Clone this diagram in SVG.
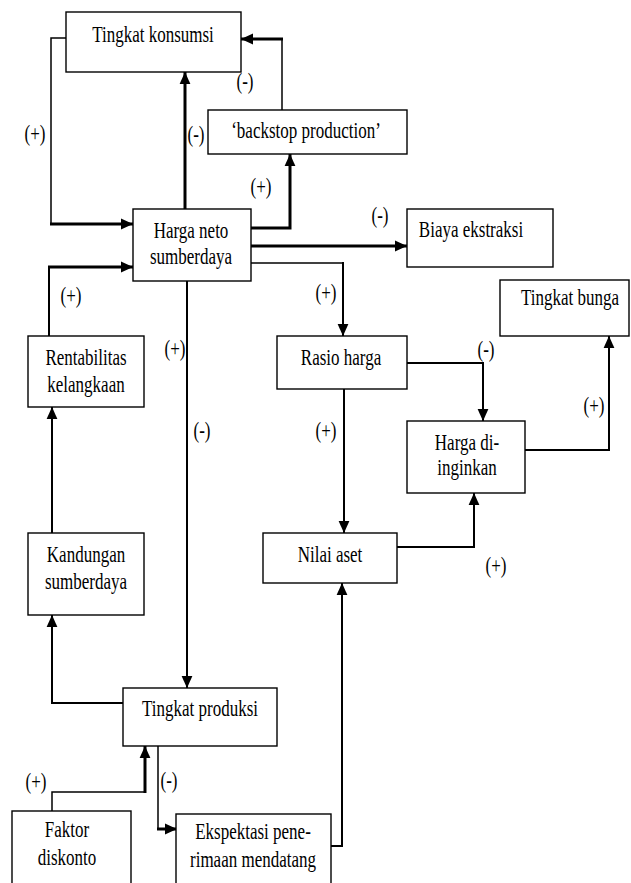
<svg xmlns="http://www.w3.org/2000/svg" width="631" height="883" viewBox="0 0 631 883">
  <style>
    .box { fill: #ffffff; stroke: #000000; stroke-width: 1.4; }
    .t { font-family: 'Liberation Serif', 'Times New Roman', serif; font-size: 17px; fill: #000000; text-anchor: middle; }
    .lbl { font-family: 'Liberation Serif', 'Times New Roman', serif; font-size: 17px; fill: #000000; text-anchor: middle; }
    .ln { fill: none; stroke: #000000; stroke-width: 2; stroke-linejoin: miter; }
    .thin { fill: none; stroke: #000000; stroke-width: 1.5; }
    .thick { fill: none; stroke: #000000; stroke-width: 3; }
  </style>
  <defs>
    <marker id="arrow" markerUnits="userSpaceOnUse" markerWidth="12" markerHeight="12" viewBox="0 0 10 10" refX="10" refY="5" orient="auto">
      <path d="M0,0.5 L10,5 L0,9.5 Z" fill="#000000"/>
    </marker>
  </defs>
  <rect x="0" y="0" width="631" height="883" fill="#ffffff"/>

  <!-- connectors -->
  <g id="connectors">
    <!-- Tingkat konsumsi -> Harga neto -->
    <polyline class="thin" points="66,38 51,38 51,224"/>
    <polyline class="thick" points="50,224 133,224" marker-end="url(#arrow)"/>
    <!-- Harga neto -> Tingkat konsumsi -->
    <polyline class="thick" points="185,209 185,72" marker-end="url(#arrow)"/>
    <!-- backstop production -> Tingkat konsumsi -->
    <polyline class="thin" points="282,110 282,39"/>
    <polyline class="thick" points="283,39 241,39" marker-end="url(#arrow)"/>
    <!-- Harga neto -> backstop production -->
    <polyline class="thick" points="251,228 290,228 290,154" marker-end="url(#arrow)"/>
    <!-- Harga neto -> Biaya ekstraksi -->
    <polyline class="thick" points="251,246 407,246" marker-end="url(#arrow)"/>
    <!-- Harga neto -> Rasio harga -->
    <polyline class="thin" points="251,263 343,263"/>
    <polyline class="ln" points="343,262 343,336" marker-end="url(#arrow)"/>
    <!-- Harga neto -> Tingkat produksi -->
    <polyline class="ln" points="187,281 187,688" marker-end="url(#arrow)"/>
    <!-- Rentabilitas -> Harga neto -->
    <polyline class="ln" points="49,336 49,267"/>
    <polyline class="thick" points="48,267 133,267" marker-end="url(#arrow)"/>
    <!-- Kandungan -> Rentabilitas -->
    <polyline class="ln" points="52,533 52,407" marker-end="url(#arrow)"/>
    <!-- Tingkat produksi -> Kandungan -->
    <polyline class="ln" points="123,703 52,703 52,615" marker-end="url(#arrow)"/>
    <!-- Tingkat produksi -> Ekspektasi -->
    <polyline class="thin" points="158,742 158,829"/>
    <polyline class="thick" points="157,829 177,829" marker-end="url(#arrow)"/>
    <!-- Faktor diskonto -> Tingkat produksi -->
    <polyline class="thin" points="52,811 52,792 145,792"/>
    <polyline class="thick" points="145,793 145,746" marker-end="url(#arrow)"/>
    <!-- Ekspektasi -> Nilai aset -->
    <polyline class="ln" points="331,846 342,846 342,583" marker-end="url(#arrow)"/>
    <!-- Rasio harga -> Harga di-inginkan -->
    <polyline class="ln" points="407,363 483,363 483,421" marker-end="url(#arrow)"/>
    <!-- Rasio harga -> Nilai aset -->
    <polyline class="ln" points="344,389 344,533" marker-end="url(#arrow)"/>
    <!-- Harga di-inginkan -> Tingkat bunga -->
    <polyline class="ln" points="525,450 609,450 609,336" marker-end="url(#arrow)"/>
    <!-- Nilai aset -> Harga di-inginkan -->
    <polyline class="ln" points="397,547 474,547 474,493" marker-end="url(#arrow)"/>
  </g>

  <!-- sign labels -->
  <g id="labels">
    <text class="lbl" transform="translate(35 141) scale(1 1.4)">(+)</text>
    <text class="lbl" transform="translate(245 89) scale(1 1.4)">(-)</text>
    <text class="lbl" transform="translate(196 142) scale(1 1.4)">(-)</text>
    <text class="lbl" transform="translate(261 194) scale(1 1.4)">(+)</text>
    <text class="lbl" transform="translate(380 223) scale(1 1.4)">(-)</text>
    <text class="lbl" transform="translate(326 300) scale(1 1.4)">(+)</text>
    <text class="lbl" transform="translate(486 357) scale(1 1.4)">(-)</text>
    <text class="lbl" transform="translate(594 413) scale(1 1.4)">(+)</text>
    <text class="lbl" transform="translate(326 438) scale(1 1.4)">(+)</text>
    <text class="lbl" transform="translate(496 573) scale(1 1.4)">(+)</text>
    <text class="lbl" transform="translate(71 303) scale(1 1.4)">(+)</text>
    <text class="lbl" transform="translate(175 356) scale(1 1.4)">(+)</text>
    <text class="lbl" transform="translate(202 438) scale(1 1.4)">(-)</text>
    <text class="lbl" transform="translate(169 788) scale(1 1.4)">(-)</text>
    <text class="lbl" transform="translate(36 789) scale(1 1.4)">(+)</text>
  </g>

  <!-- nodes -->
  <g id="tingkat-konsumsi">
    <rect class="box" x="66" y="12" width="175" height="60"/>
    <text class="t" transform="translate(153 42) scale(1 1.4)">Tingkat konsumsi</text>
  </g>
  <g id="backstop-production">
    <rect class="box" x="208" y="110" width="199" height="44"/>
    <text class="t" transform="translate(306 138) scale(1 1.4)">‘backstop production’</text>
  </g>
  <g id="harga-neto">
    <rect class="box" x="133" y="209" width="118" height="72"/>
    <text class="t" transform="translate(191 238) scale(1 1.4)">Harga neto</text>
    <text class="t" transform="translate(191 264) scale(1 1.4)">sumberdaya</text>
  </g>
  <g id="biaya-ekstraksi">
    <rect class="box" x="407" y="209" width="146" height="58"/>
    <text class="t" transform="translate(471 237) scale(1 1.4)">Biaya ekstraksi</text>
  </g>
  <g id="tingkat-bunga">
    <rect class="box" x="500" y="280" width="129" height="56"/>
    <text class="t" transform="translate(570 305) scale(1 1.4)">Tingkat bunga</text>
  </g>
  <g id="rentabilitas">
    <rect class="box" x="28" y="336" width="116" height="71"/>
    <text class="t" transform="translate(86 365) scale(1 1.4)">Rentabilitas</text>
    <text class="t" transform="translate(86 392) scale(1 1.4)">kelangkaan</text>
  </g>
  <g id="rasio-harga">
    <rect class="box" x="277" y="336" width="130" height="53"/>
    <text class="t" transform="translate(341 365) scale(1 1.4)">Rasio harga</text>
  </g>
  <g id="harga-diinginkan">
    <rect class="box" x="407" y="421" width="118" height="72"/>
    <text class="t" transform="translate(467 450) scale(1 1.4)">Harga di-</text>
    <text class="t" transform="translate(467 475) scale(1 1.4)">inginkan</text>
  </g>
  <g id="kandungan">
    <rect class="box" x="28" y="533" width="116" height="82"/>
    <text class="t" transform="translate(86 562) scale(1 1.4)">Kandungan</text>
    <text class="t" transform="translate(86 589) scale(1 1.4)">sumberdaya</text>
  </g>
  <g id="nilai-aset">
    <rect class="box" x="263" y="533" width="134" height="50"/>
    <text class="t" transform="translate(330 562) scale(1 1.4)">Nilai aset</text>
  </g>
  <g id="tingkat-produksi">
    <rect class="box" x="123" y="688" width="154" height="58"/>
    <text class="t" transform="translate(200 716) scale(1 1.4)">Tingkat produksi</text>
  </g>
  <g id="faktor-diskonto">
    <rect class="box" x="12" y="811" width="119" height="80"/>
    <text class="t" transform="translate(67 837) scale(1 1.4)">Faktor</text>
    <text class="t" transform="translate(67 865) scale(1 1.4)">diskonto</text>
  </g>
  <g id="ekspektasi">
    <rect class="box" x="176" y="814" width="155" height="80"/>
    <text class="t" transform="translate(253 839) scale(1 1.4)">Ekspektasi pene-</text>
    <text class="t" transform="translate(253 867) scale(1 1.4)">rimaan mendatang</text>
  </g>
</svg>
